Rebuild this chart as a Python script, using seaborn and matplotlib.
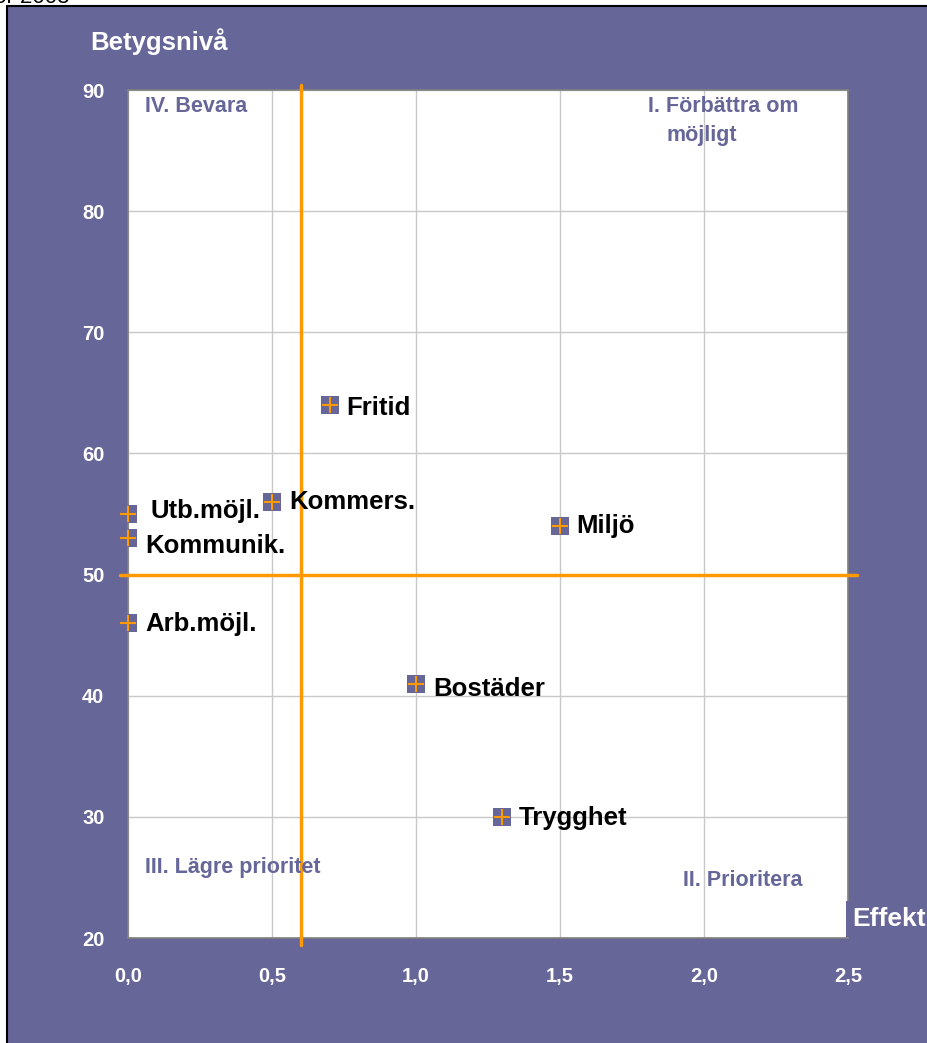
import matplotlib
matplotlib.use("Agg")
import matplotlib.pyplot as plt
import seaborn as sns
import pandas as pd
from matplotlib.patches import Rectangle
from matplotlib.lines import Line2D

# data
labels = ["Fritid", "Kommers.", "Utb.möjl.", "Kommunik.", "Arb.möjl.", "Miljö", "Bostäder", "Trygghet"]
effekt = [0.7, 0.5, 0.0, 0.0, 0.0, 1.5, 1.0, 1.3]
betyg = [64, 56, 55, 53, 46, 54, 41, 30]
# label offsets in pixels (dx, dy)
label_dx = [17, 17, 22, 17, 17, 16, 17, 16]
label_dy = [-3, 0, 3, -8, -1, 0, -5, -1]

x_ticks = [0.0, 0.5, 1.0, 1.5, 2.0, 2.5]
y_ticks = [20, 30, 40, 50, 60, 70, 80, 90]
x_cut = 0.6
y_cut = 50

purple = "#666699"
orange = "#ff9900"

sns.set_theme(style="white")
plt.rcParams['font.family'] = ['Liberation Sans', 'DejaVu Sans']

W, H = 928, 1043
fig = plt.figure(figsize=(W / 100, H / 100), dpi=100, facecolor="white")

# purple background panel with black frame
fig.patches.append(Rectangle((7 / W, -0.01), 1.02, 1 - 6 / H + 0.01, transform=fig.transFigure,
                             facecolor=purple, edgecolor="black", linewidth=1.5, zorder=-10))
fig.text(-12 / W, 1 - 3 / H, "för 2003", fontsize=16, color="black", va="baseline")

ax = fig.add_axes([128 / W, 1 - 938 / H, (848 - 128) / W, (938 - 90) / H])
ax.set_facecolor("white")
ax.set_xlim(0, 2.5)
ax.set_ylim(20, 90)
ax.set_xticks(x_ticks)
ax.set_yticks(y_ticks)
ax.set_xticklabels([f"{t:.1f}".replace(".", ",") for t in x_ticks])
ax.set_yticklabels([str(t) for t in y_ticks])
ax.tick_params(length=0, colors="white", labelsize=14.5)
ax.tick_params(axis="x", pad=21)
ax.tick_params(axis="y", pad=17)
for lab in ax.get_xticklabels() + ax.get_yticklabels():
    lab.set_fontweight("bold")
ax.grid(True, color="#c8c8c8", linewidth=1)
for s in ax.spines.values():
    s.set_color("#808080")
    s.set_linewidth(1.2)

# quadrant lines (extend slightly beyond the plot area)
ax.add_line(Line2D([x_cut, x_cut], [20 - 7 / 12.11, 90 + 5 / 12.11], color=orange, lw=2.5,
                   clip_on=False, zorder=3))
ax.add_line(Line2D([-8 / 288, 2.5 + 9 / 288], [y_cut, y_cut], color=orange, lw=2.5,
                   clip_on=False, zorder=3))

df = pd.DataFrame({"effekt": effekt, "betyg": betyg, "label": labels})
sns.scatterplot(data=df, x="effekt", y="betyg", marker="s", s=170, color=purple,
                edgecolor=purple, linewidth=0, ax=ax, zorder=4)
sns.scatterplot(data=df, x="effekt", y="betyg", marker="+", s=130, color=orange,
                linewidth=1.5, ax=ax, zorder=5)
ax.collections[-1].set_clip_on(False)
ax.set_xlabel("")
ax.set_ylabel("")

for lab, x, y, dx, dy in zip(labels, effekt, betyg, label_dx, label_dy):
    ax.annotate(lab, (x, y), xytext=(dx * 0.72, dy * 0.72), textcoords="offset points",
                fontsize=18.5, fontweight="bold", color="black", va="center", ha="left", zorder=6)

# quadrant texts
qkw = dict(color=purple, fontsize=15.5, fontweight="bold", transform=fig.transFigure)
fig.text(145 / W, 1 - 107 / H, "IV. Bevara", va="center", **qkw)
fig.text(648 / W, 1 - 107 / H, "I. Förbättra om", va="center", **qkw)
fig.text(667 / W, 1 - 135 / H, "möjligt", va="center", **qkw)
fig.text(145 / W, 1 - 867 / H, "III. Lägre prioritet", va="center", **qkw)
fig.text(683 / W, 1 - 881 / H, "II. Prioritera", va="center", **qkw)

# axis titles
fig.text(90 / W, 1 - 42 / H, "Betygsnivå", color="white", fontsize=18.5, fontweight="bold", va="center")
fig.text(852 / W, 1 - 919 / H, "Effekt", color="white", fontsize=19, fontweight="bold", va="center",
         bbox=dict(facecolor=purple, edgecolor="none", pad=4), zorder=10)

fig.savefig("out.png", dpi=100, facecolor="white")
plt.close(fig)
